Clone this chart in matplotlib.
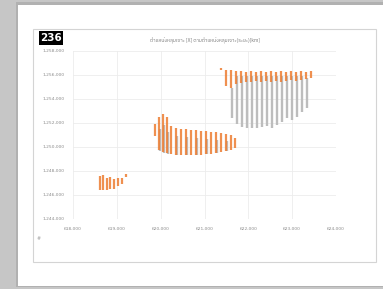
import matplotlib
matplotlib.use("Agg")
import matplotlib.pyplot as plt
from matplotlib.patches import Rectangle
from matplotlib import font_manager

# pick a font that has Thai glyphs, if one is installed
thai_fonts = [f.name for f in font_manager.fontManager.ttflist if "Thai" in f.name]
title_family = thai_fonts[:1] + ["Noto Sans", "DejaVu Sans"]

chart_title = "ตำแหน่งหลุมเจาะ [X] ตามตำแหน่งหลุมเจาะ(ระยะ)[km]"
badge = "236"

x_ticks = [618000, 619000, 620000, 621000, 622000, 623000, 624000]
y_ticks = [1244000, 1246000, 1248000, 1250000, 1252000, 1254000, 1256000, 1258000]

# survey lines: column x, bottom y, top y
# orange series
orange_x = [618620, 618690, 618780, 618850, 618940, 619030, 619120, 619210,
            619870, 619960, 620050, 620145, 620236, 620350, 620464, 620578,
            620692, 620806, 620920, 621034, 621148, 621263, 621377, 621491,
            621605, 621696,
            621377, 621491, 621605, 621719, 621833, 621947, 622061, 622175,
            622289, 622403, 622517, 622631, 622746, 622860, 622974, 623088,
            623202, 623316, 623430]
orange_lo = [1246420, 1246420, 1246450, 1246500, 1246500, 1246750, 1246900, 1247500,
             1250920, 1249750, 1249580, 1249500, 1249420, 1249330, 1249330, 1249330,
             1249330, 1249330, 1249330, 1249420, 1249420, 1249500, 1249580, 1249670,
             1249750, 1249920,
             1256420, 1255080, 1254920, 1255250, 1255330, 1255420, 1255420, 1255500,
             1255420, 1255500, 1255420, 1255500, 1255420, 1255500, 1255580, 1255500,
             1255580, 1255670, 1255750]
orange_hi = [1247600, 1247670, 1247420, 1247500, 1247330, 1247400, 1247450, 1247750,
             1251920, 1252500, 1252750, 1252500, 1251750, 1251580, 1251500, 1251500,
             1251420, 1251420, 1251330, 1251330, 1251250, 1251250, 1251170, 1251080,
             1251000, 1250750,
             1256580, 1256420, 1256420, 1256330, 1256330, 1256250, 1256330, 1256250,
             1256330, 1256250, 1256330, 1256250, 1256330, 1256250, 1256330, 1256250,
             1256330, 1256250, 1256330]

# gray series
gray_x = [619990, 620080, 620170, 620380, 620600, 620830, 621060, 621290, 621520,
          621628, 621742, 621856, 621970, 622084, 622198, 622312, 622426, 622540,
          622654, 622768, 622882, 622996, 623110, 623224, 623338]
gray_lo = [1249670, 1249500, 1249420, 1249330, 1249330, 1249330, 1249420, 1249500, 1249670,
           1252420, 1251920, 1251670, 1251580, 1251580, 1251580, 1251670, 1251750, 1251580,
           1251830, 1252080, 1252420, 1252250, 1252500, 1252920, 1253250]
gray_hi = [1251500, 1251830, 1251250, 1250920, 1250830, 1250750, 1250670, 1250580, 1250500,
           1254920, 1255920, 1255920, 1255920, 1255920, 1255920, 1255920, 1255920, 1255920,
           1255920, 1255920, 1255920, 1255920, 1255920, 1255920, 1255750]

orange = "#ED7D31"
gray = "#BDBDBD"
tick_color = "#8c8c8c"

fig = plt.figure(figsize=(3.83, 2.89), dpi=100, facecolor="#c6c6c6")

# white slide with a soft shadow
fig.patches.append(Rectangle((16 / 383, 2 / 289), 1.0, 285 / 289, transform=fig.transFigure,
                             facecolor="#9e9e9e", edgecolor="none", alpha=0.5, zorder=-3))
fig.patches.append(Rectangle((18 / 383, 3 / 289), 1.0, 281 / 289, transform=fig.transFigure,
                             facecolor="white", edgecolor="none", zorder=-2))
# chart area border
fig.patches.append(Rectangle((33 / 383, 27 / 289), 343 / 383, 233 / 289, transform=fig.transFigure,
                             facecolor="white", edgecolor="#d4d4d4", linewidth=0.8, zorder=-1))

ax = fig.add_axes([73 / 383, 70 / 289, 263 / 383, 168 / 289])
ax.set_zorder(2)
ax.set_facecolor("white")

ax.vlines(gray_x, gray_lo, gray_hi, colors=gray, linewidth=1.7, zorder=2)
ax.vlines(orange_x, orange_lo, orange_hi, colors=orange, linewidth=1.6, alpha=0.85, zorder=3)

ax.set_xlim(x_ticks[0], x_ticks[-1])
ax.set_ylim(y_ticks[0], y_ticks[-1])
ax.set_xticks(x_ticks)
ax.set_yticks(y_ticks)
ax.set_xticklabels([f"{v:,}" for v in x_ticks])
ax.set_yticklabels([f"{v:,}" for v in y_ticks])
ax.tick_params(length=0, labelsize=3.2, labelcolor=tick_color, pad=6)
ax.grid(True, color="#ececec", linewidth=0.6)
ax.set_axisbelow(True)
for s in ax.spines.values():
    s.set_visible(False)

fig.text(205 / 383, 1 - 40 / 289, chart_title, ha="center", va="center",
         fontsize=3.6, color="#7a7a7a", family=title_family)
fig.text(51 / 383, 1 - 38 / 289, badge, ha="center", va="center", fontsize=7.5,
         color="white", fontweight="bold",
         bbox=dict(boxstyle="square,pad=0.15", facecolor="black", edgecolor="none"))
fig.text(39 / 383, 1 - 239 / 289, "#", ha="center", va="center", fontsize=3.5, color="#a0a0a0")

fig.savefig("out.png", dpi=100, facecolor=fig.get_facecolor())
